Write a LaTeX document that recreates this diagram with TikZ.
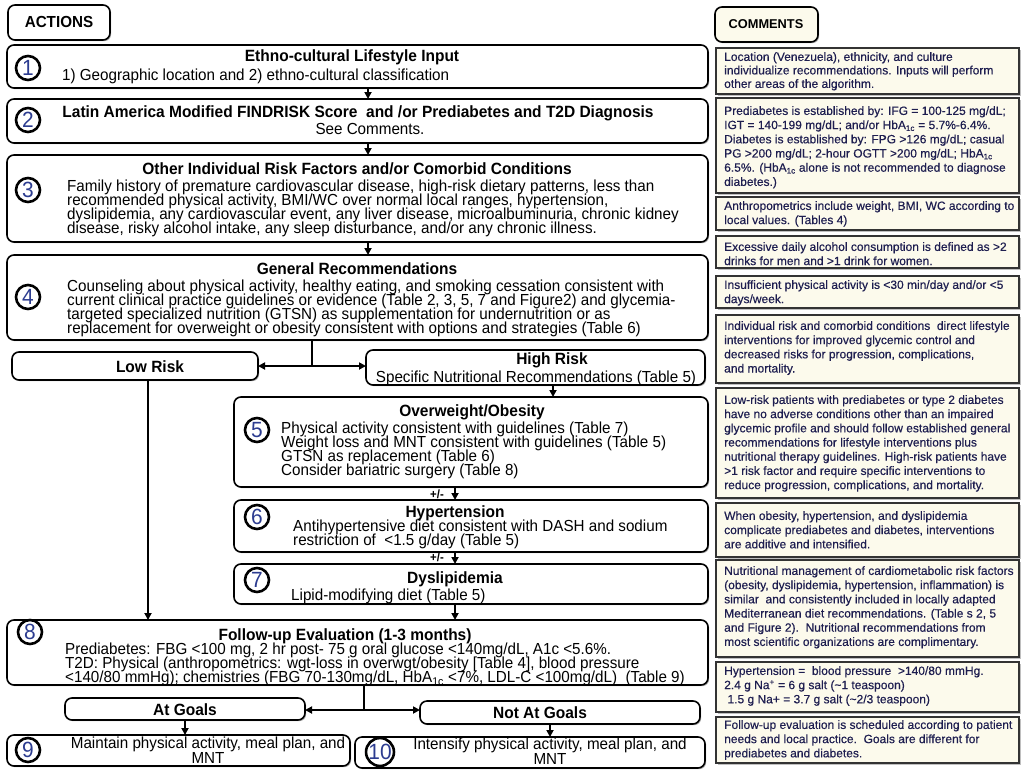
\documentclass[tikz,border=0pt]{standalone}
\usepackage{fontspec}
\setmainfont{Liberation Sans}
\newfontfamily\nar[FakeStretch=0.95]{Liberation Sans}
\newfontfamily\cmf[FakeBold=0.4]{Liberation Sans}
\usetikzlibrary{shadows,arrows.meta}
\definecolor{cream}{HTML}{FCFAEC}
\definecolor{navy}{HTML}{1E1E50}
\definecolor{numblue}{HTML}{2C3C90}
\newcommand\bx[6]{\node[#6, minimum width={#4-#2}, minimum height={#5-#3}] (#1) at ({(#2+#4)/2},{(#3+#5)/2}) {};}
\newcommand\nls{\lineskiplimit=-50pt\lineskip=0pt}
\tikzset{
 abox/.style={draw, rounded corners=7pt, line width=1.6pt, fill=white, drop shadow={shadow xshift=1.2pt, shadow yshift=-1.2pt, fill=black!60}, inner sep=0, outer sep=0},
 cbox/.style={draw=black!80, line width=1.4pt, fill=cream, drop shadow={shadow xshift=1.5pt,shadow yshift=-1.5pt,fill=black!50}, inner sep=0, outer sep=0},
 num/.style={circle, draw, line width=2.6pt, fill=white, minimum size=24pt, inner sep=0, font=\nar\fontsize{22}{22}\selectfont, text=numblue},
 ttl/.style={font=\nar\bfseries\fontsize{16.3}{16.3}\selectfont, inner sep=0, anchor=mid, yshift=-3.5pt},
 txt/.style={font=\nar\fontsize{16}{16}\selectfont, inner sep=0, yshift=-3.5pt},
 body/.style={font=\nar\fontsize{16}{14}\selectfont\nls, inner sep=0, align=left, anchor=north west},
 cmt/.style={font=\cmf\fontsize{12}{14.2}\selectfont\nls, text=navy, inner sep=0, align=left, anchor=north west},
 arr/.style={line width=2pt, -{Triangle[length=7pt,width=7pt]}},
 darr/.style={line width=2pt, {Triangle[length=7pt,width=7pt]}-{Triangle[length=7pt,width=7pt]}},
 ln/.style={line width=2pt},
}
\begin{document}
\begin{tikzpicture}[x=1pt,y=-1pt]
\useasboundingbox (0,0) rectangle (1024,771);
% headers
\bx{hact}{8}{5}{110}{40}{abox}
\node[font=\nar\bfseries\fontsize{16}{16}\selectfont, inner sep=0] (tact) at (59,22) {ACTIONS};
\bx{hcom}{715}{7}{818}{42}{abox,fill=cream}
\node[font=\bfseries\fontsize{12.8}{12.8}\selectfont, inner sep=0] (tcom) at (766,24) {COMMENTS};

% left boxes
\bx{b1}{7}{45}{708}{88}{abox}
\bx{b2}{7}{99}{708}{143}{abox}
\bx{b3}{7}{155}{708}{242}{abox}
\bx{b4}{7}{255}{708}{340}{abox}
\bx{lr}{12}{352}{258}{380}{abox}
\bx{hr}{366}{350}{705}{385}{abox}
\bx{b5}{234}{397}{708}{487}{abox}
\bx{b6}{234}{500}{708}{552}{abox}
\bx{b7}{234}{564}{708}{604}{abox}
\bx{b8}{7}{620}{708}{685}{abox}
\bx{ag}{65}{698}{305}{720}{abox}
\bx{ng}{420}{701}{700}{724}{abox}
\bx{b9}{7}{735}{350}{766}{abox}
\bx{b10}{355}{737}{705}{768}{abox}

% circles
\node[num] (c1) at (28,68) {1};
\node[num] (c2) at (28,120) {2};
\node[num] (c3) at (28,190) {3};
\node[num] (c4) at (28,297) {4};
\node[num] (c5) at (257,430) {5};
\node[num] (c6) at (257,517) {6};
\node[num] (c7) at (257,580) {7};
\node[num] (c8) at (30,632) {8};
\node[num] (c9) at (28,750) {9};
\node[num] (c10) at (380,752) {10};

% texts
\node[ttl] (t1) at (352,55) {Ethno-cultural Lifestyle Input};
\node[txt, anchor=mid west] (t1b) at (62,74) {1) Geographic location and 2) ethno-cultural classification};
\node[ttl] (t2) at (358,111) {Latin America Modified FINDRISK Score\ \ and /or Prediabetes and T2D Diagnosis};
\node[txt, anchor=mid] (t2b) at (370,128) {See Comments.};
\node[ttl] (t3) at (357,168) {Other Individual Risk Factors and/or Comorbid Conditions};
\node[body] (t3b) at (67,180) {Family history of premature cardiovascular disease, high-risk dietary patterns, less than\\
recommended physical activity, BMI/WC over normal local ranges, hypertension,\\
dyslipidemia, any cardiovascular event, any liver disease, microalbuminuria, chronic kidney\\
disease, risky alcohol intake, any sleep disturbance, and/or any chronic illness.};
\node[ttl] (t4) at (357,268) {General Recommendations};
\node[body] (t4b) at (67,280) {Counseling about physical activity, healthy eating, and smoking cessation consistent with\\
current clinical practice guidelines or evidence (Table 2, 3, 5, 7 and Figure2) and glycemia-\\
targeted specialized nutrition (GTSN) as supplementation for undernutrition or as\\
replacement for overweight or obesity consistent with options and strategies (Table 6)};
\node[ttl] (tlr) at (150,366) {Low Risk};
\node[ttl] (thr) at (552,358) {High Risk};
\node[txt, anchor=mid] (thrb) at (536,376) {Specific Nutritional Recommendations (Table 5)};
\node[ttl] (t5) at (472,410) {Overweight/Obesity};
\node[body] (t5b) at (281,421.5) {Physical activity consistent with guidelines (Table 7)\\
Weight loss and MNT consistent with guidelines (Table 5)\\
GTSN as replacement (Table 6)\\
Consider bariatric surgery (Table 8)};
\node[ttl] (t6) at (455,511) {Hypertension};
\node[body] (t6b) at (293,520) {Antihypertensive diet consistent with DASH and sodium\\
restriction of\ \ {<}1.5 g/day (Table 5)};
\node[ttl] (t7) at (455,577) {Dyslipidemia};
\node[txt, anchor=mid west] (t7b) at (291,594) {Lipid-modifying diet (Table 5)};
\node[ttl] (t8) at (345,634) {Follow-up Evaluation (1-3 months)};
\node[body] (t8b) at (65,643) {Prediabetes: FBG {<}100 mg, 2 hr post- 75 g oral glucose {<}140mg/dL, A1c {<}5.6\%.\\
T2D: Physical (anthropometrics: wgt-loss in overwgt/obesity [Table 4], blood pressure\\
{<}140/80 mmHg); chemistries (FBG 70-130mg/dL, HbA\textsubscript{1c} {<}7\%, LDL-C {<}100mg/dL)\ \ (Table 9)};
\node[ttl] (tag) at (185,709) {At Goals};
\node[ttl] (tng) at (540,712) {Not At Goals};
\node[body, align=center, anchor=north, font=\nar\fontsize{16}{15}\selectfont\nls] (t9) at (208,737) {Maintain physical activity, meal plan, and\\MNT};
\node[body, align=center, anchor=north, font=\nar\fontsize{16}{15}\selectfont\nls] (t10) at (550,737.5) {Intensify physical activity, meal plan, and\\MNT};
\node[font=\nar\bfseries\fontsize{12}{12}\selectfont, inner sep=0] (pm1) at (437,494) {+/-};
\node[font=\nar\bfseries\fontsize{12}{12}\selectfont, inner sep=0] (pm2) at (437,557) {+/-};

% connectors
\draw[arr] ([xshift=10.5pt]b1.south) -- ([xshift=10.5pt]b2.north);
\draw[arr] ([xshift=10.5pt]b2.south) -- ([xshift=10.5pt]b3.north);
\draw[arr] ([xshift=10.5pt]b3.south) -- ([xshift=10.5pt]b4.north);
\coordinate (j1) at (312,366);
\draw[ln] (b4.south -| j1) -- (j1);
\draw[darr] (lr.east) -- (j1 -| hr.west);
\draw[arr] (hr.south -| 553,0) -- (b5.north -| 553,0);
\draw[arr] (b5.south -| 455,0) -- (b6.north -| 455,0);
\draw[arr] (b6.south -| 455,0) -- (b7.north -| 455,0);
\draw[arr] (b7.south -| 455,0) -- (b8.north -| 455,0);
\draw[arr] (lr.south -| 148,0) -- (b8.north -| 148,0);
\coordinate (j2) at (364,710);
\draw[ln] (b8.south -| j2) -- (j2);
\draw[darr] (j2 -| ag.east) -- (j2 -| ng.west);
\draw[arr] (ag.south) -- (b9.north -| ag.south);
\draw[arr] (ng.south -| 550,0) -- (b10.north -| 550,0);

% comments
\bx{k1}{716}{48}{1019}{94}{cbox}
\node[cmt, font=\cmf\fontsize{12}{13.5}\selectfont\nls] (m1) at (724,52) {Location (Venezuela), ethnicity, and culture\\individualize recommendations. Inputs will perform\\other areas of the algorithm.};
\bx{k2}{716}{98}{1019}{193}{cbox}
\node[cmt] (m2) at (724,106) {Prediabetes is established by: IFG = 100-125 mg/dL;\\
IGT = 140-199 mg/dL; and/or HbA\textsubscript{1c} = 5.7\%-6.4\%.\\
Diabetes is established by: FPG {>}126 mg/dL; casual\\
PG {>}200 mg/dL; 2-hour OGTT {>}200 mg/dL; HbA\textsubscript{1c}\\
6.5\%. (HbA\textsubscript{1c} alone is not recommended to diagnose\\
diabetes.)};
\bx{k3}{716}{197}{1019}{230}{cbox}
\node[cmt] (m3) at (724,201) {Anthropometrics include weight, BMI, WC according to\\local values. (Tables 4)};
\bx{k4}{716}{236}{1019}{268}{cbox}
\node[cmt] (m4) at (724,242) {Excessive daily alcohol consumption is defined as {>}2\\drinks for men and {>}1 drink for women.};
\bx{k5}{716}{276}{1019}{308}{cbox}
\node[cmt] (m5) at (724,280) {Insufficient physical activity is {<}30 min/day and/or {<}5\\days/week.};
\bx{k6}{716}{315}{1019}{383}{cbox}
\node[cmt] (m6) at (724,321) {Individual risk and comorbid conditions\ \ direct lifestyle\\interventions for improved glycemic control and\\decreased risks for progression, complications,\\and mortality.};
\bx{k7}{716}{388}{1019}{498}{cbox}
\node[cmt] (m7) at (724,395) {Low-risk patients with prediabetes or type 2 diabetes\\
have no adverse conditions other than an impaired\\
glycemic profile and should follow established general\\
recommendations for lifestyle interventions plus\\
nutritional therapy guidelines. High-risk patients have\\
{>}1 risk factor and require specific interventions to\\
reduce progression, complications, and mortality.};
\bx{k8}{716}{503}{1019}{557}{cbox}
\node[cmt] (m8) at (724,511) {When obesity, hypertension, and dyslipidemia\\complicate prediabetes and diabetes, interventions\\are additive and intensified.};
\bx{k9}{716}{560}{1019}{657}{cbox}
\node[cmt] (m9) at (724,566) {Nutritional management of cardiometabolic risk factors\\
(obesity, dyslipidemia, hypertension, inflammation) is\\
similar\ \ and consistently included in locally adapted\\
Mediterranean diet recommendations. (Table s 2, 5\\
and Figure 2).\ \ Nutritional recommendations from\\
most scientific organizations are complimentary.};
\bx{k10}{716}{662}{1019}{712}{cbox}
\node[cmt] (m10) at (724,666) {Hypertension =\ \ blood pressure\ \ {>}140/80 mmHg.\\
2.4 g Na\textsuperscript{+} = 6 g salt (\textasciitilde1 teaspoon)\\
\ 1.5 g Na+ = 3.7 g salt (\textasciitilde2/3 teaspoon)};
\bx{k11}{716}{717}{1019}{763}{cbox}
\node[cmt] (m11) at (724,720) {Follow-up evaluation is scheduled according to patient\\needs and local practice.\ \ Goals are different for\\prediabetes and diabetes.};
\end{tikzpicture}
\end{document}
